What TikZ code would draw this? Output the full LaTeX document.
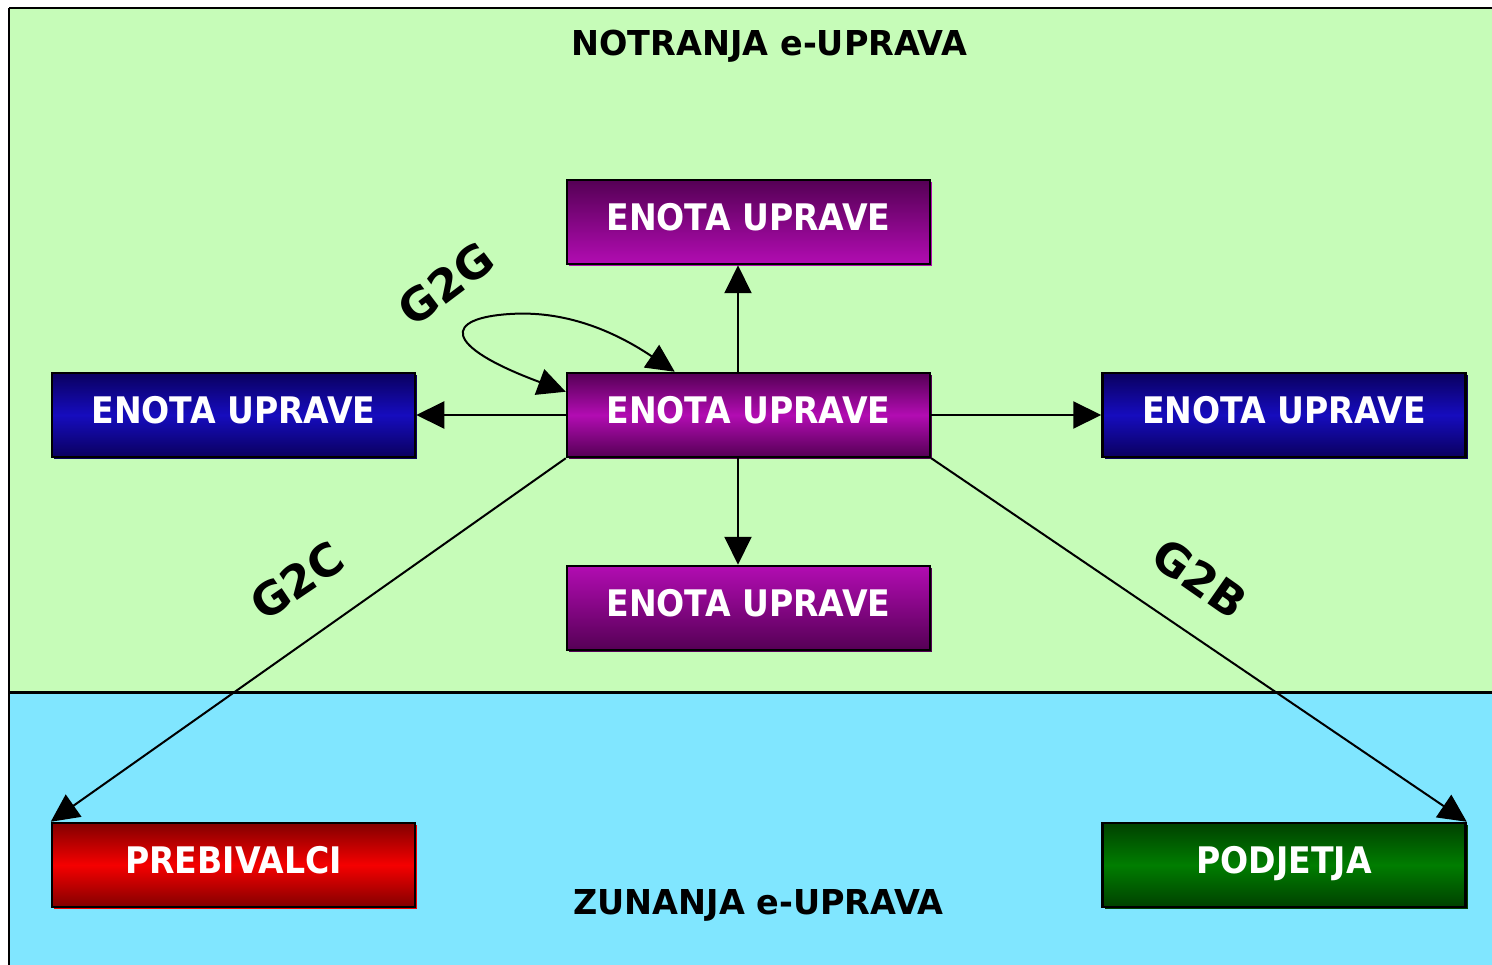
\documentclass[tikz,border=0pt]{standalone}
\usepackage{fontspec}
\newfontfamily\boxfont{DejaVu Sans}[FakeStretch=0.905]
\newfontfamily\lblfont{DejaVu Sans}[FakeStretch=1.0]
\newfontfamily\titlefont{DejaVu Sans}[FakeStretch=0.975]
\usetikzlibrary{arrows.meta,shadows}
\definecolor{bggreen}{RGB}{198,252,184}
\definecolor{bgblue}{RGB}{128,230,255}
\definecolor{pdark}{RGB}{85,0,85}
\definecolor{pbright}{RGB}{178,12,178}
\definecolor{bdark}{RGB}{10,0,95}
\definecolor{bbright}{RGB}{22,12,190}
\definecolor{rdark}{RGB}{130,0,0}
\definecolor{rbright}{RGB}{245,0,0}
\definecolor{gdark}{RGB}{0,65,0}
\definecolor{gbright}{RGB}{0,125,0}
\begin{document}
\begin{tikzpicture}[x=1pt,y=-1pt,
  unit/.style={draw=black, line width=2.5pt, minimum width=363pt, minimum height=84pt,
    inner sep=0pt, text=white, font=\boxfont\bfseries\fontsize{36.6}{40}\selectfont,
    text height=27pt, text depth=10pt},
  purplemid/.style={top color=pdark, bottom color=pdark, middle color=pbright,
    general shadow={fill=pdark, shadow xshift=2pt, shadow yshift=-2pt}},
  purpleup/.style={top color=pdark, bottom color=pbright,
    general shadow={fill=pbright, shadow xshift=2pt, shadow yshift=-2pt}},
  purpledown/.style={top color=pbright, bottom color=pdark,
    general shadow={fill=pdark, shadow xshift=2pt, shadow yshift=-2pt}},
  bluebox/.style={top color=bdark, bottom color=bdark, middle color=bbright,
    general shadow={fill=bdark, shadow xshift=2pt, shadow yshift=-2pt}},
  redbox/.style={top color=rdark, bottom color=rdark, middle color=rbright,
    general shadow={fill=rbright, shadow xshift=2pt, shadow yshift=-2pt}},
  greenbox/.style={top color=gdark, bottom color=gdark, middle color=gbright,
    general shadow={fill=gdark, shadow xshift=2pt, shadow yshift=-2pt}},
  conn/.style={draw=black, line width=2pt, -{Triangle[length=28pt,width=27pt]}},
  lbl/.style={font=\lblfont\bfseries\fontsize{45}{50}\selectfont, inner sep=0pt},
  titletext/.style={font=\titlefont\bfseries\fontsize{34.3}{38}\selectfont, inner sep=0pt, anchor=base}
]
\useasboundingbox (0,0) rectangle (1492,965);
% background regions
\fill[white] (0,0) rectangle (1492,965);
\fill[bggreen] (9,8) rectangle (1492,692);
\fill[bgblue] (9,692) rectangle (1492,965);
\draw[line width=2.5pt] (9,8) -- (1492,8);
\draw[line width=2.5pt] (9,8) -- (9,965);
\draw[line width=3pt] (9,692) -- (1492,692);

% titles
\node[titletext] (notr) at (769.5,55.7) {NOTRANJA e-UPRAVA};
\node[titletext] (zun) at (758.5,914) {ZUNANJA e-UPRAVA};

% boxes
\node[unit, purpleup] (top) at (748.5,222) {ENOTA UPRAVE};
\node[unit, purplemid] (mid) at (748.5,415) {ENOTA UPRAVE};
\node[unit, purpledown] (bot) at (748.5,608) {ENOTA UPRAVE};
\node[unit, bluebox] (left) at (233.5,415) {ENOTA UPRAVE};
\node[unit, bluebox] (right) at (1284,415) {ENOTA UPRAVE};
\node[unit, redbox] (red) at (233.5,865) {PREBIVALCI};
\node[unit, greenbox] (green) at (1284,865) {PODJETJA};

% connectors
\draw[conn] ([xshift=-10.5pt]mid.north) -- ([xshift=-10.5pt]top.south);
\draw[conn] ([xshift=-10.5pt]mid.south) -- ([xshift=-10.5pt]bot.north);
\draw[conn] (mid.west) -- (left.east);
\draw[conn] (mid.east) -- (right.west);
\draw[conn] (mid.south west) -- (red.north west);
\draw[conn] (mid.south east) -- (green.north east);
\draw[conn, {Triangle[length=28pt,width=27pt]}-{Triangle[length=28pt,width=27pt]}]
  ([yshift=-20pt]mid.north west) .. controls (440,345) and (445,318) .. (510,314)
  .. controls (570,310) and (620,335) .. ([xshift=109pt]mid.north west);

% labels
\node[lbl, rotate=37] (g2g) at (446,284) {G2G};
\node[lbl, rotate=34] (g2c) at (297,581) {G2C};
\node[lbl, rotate=-35] (g2b) at (1200,578) {G2B};
\end{tikzpicture}
\end{document}
